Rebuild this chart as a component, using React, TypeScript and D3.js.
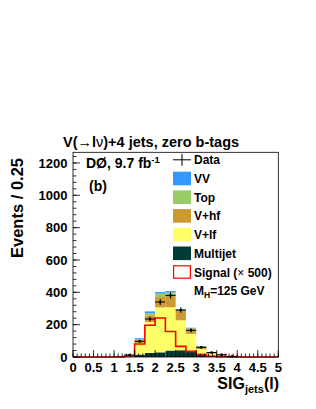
import React from 'react'
import * as d3 from 'd3'

// bin lower edges, width 0.25
const binEdges = d3.range(0, 5, 0.25)

const multijet = [0, 0, 0, 0, 0, 3, 15, 25, 29, 40, 42, 35, 20, 8, 4, 1, 0, 0, 0, 0]
const vlf = [0, 0, 0, 0, 0, 6, 72, 191, 278, 268, 185, 108, 28, 10, 4, 2, 1, 0, 0, 0]
const vhf = [0, 0, 0, 0, 0, 2, 18, 42, 64, 72, 58, 30, 14, 5, 3, 1, 0, 0, 0, 0]
const top = [0, 0, 0, 0, 0, 1, 7, 14, 21, 20, 8, 5, 4, 2, 1, 1, 0, 0, 0, 0]
const vv = [0, 0, 0, 0, 0, 1, 5, 10, 10, 8, 4, 3, 2, 1, 0, 0, 0, 0, 0, 0]
const dataCounts = [0, 0, 0, 0, 0, 12, 97, 235, 340, 381, 290, 165, 60, 28, 14, 4, 0, 0, 0, 0]
const signal = [0, 0, 0, 0, 1, 6, 80, 196, 241, 158, 66, 35, 15, 5, 2, 1, 0, 0, 0, 0]

const xTicks = [0, 0.5, 1, 1.5, 2, 2.5, 3, 3.5, 4, 4.5, 5]
const xTickLabels = ['0', '0.5', '1', '1.5', '2', '2.5', '3', '3.5', '4', '4.5', '5']
const yTicks = [0, 200, 400, 600, 800, 1000, 1200]

const series = [
  { key: 'multijet', name: 'Multijet', color: '#003b36', values: multijet },
  { key: 'vlf', name: 'V+lf', color: '#ffff66', values: vlf },
  { key: 'vhf', name: 'V+hf', color: '#cc9933', values: vhf },
  { key: 'top', name: 'Top', color: '#99cc66', values: top },
  { key: 'vv', name: 'VV', color: '#3399ff', values: vv },
]

const FONT = '"Liberation Sans", Arial, Helvetica, sans-serif'

export default function App() {
  const W = 316
  const H = 409
  const x = d3.scaleLinear().domain([0, 5]).range([73, 278.3])
  const y = d3.scaleLinear().domain([0, 1266]).range([357, 152.3])
  const bw = 0.25

  const table = binEdges.map((e, i) => {
    const row: any = { e }
    series.forEach((s) => (row[s.key] = s.values[i]))
    return row
  })
  const stacked = d3.stack().keys(series.map((s) => s.key))(table)

  // signal step outline
  const sigPts: [number, number][] = []
  binEdges.forEach((e, i) => {
    sigPts.push([e, signal[i]])
    sigPts.push([e + bw, signal[i]])
  })
  const sigLine = d3
    .line<[number, number]>()
    .x((d) => x(d[0]))
    .y((d) => y(d[1]))

  const xMinor = d3.range(0, 5.001, 0.1)
  const yMinor = d3.range(0, 1241, 40)

  const legendX = 173
  const legendRows = ['VV', 'Top', 'V+hf', 'V+lf', 'Multijet']
  const rowY = (i: number) => 178.5 + i * 18.7

  return (
    <div style={{ position: 'absolute', left: 0, top: 0 }}>
      <svg width={W} height={H} style={{ display: 'block', background: '#fff' }} fontFamily={FONT}>
        {/* stacked backgrounds */}
        {stacked.map((layer, li) => (
          <g key={layer.key} fill={series[li].color}>
            {layer.map((d, i) =>
              d[1] - d[0] > 0 ? (
                <rect
                  key={i}
                  x={x(binEdges[i])}
                  y={y(d[1])}
                  width={x(binEdges[i] + bw) - x(binEdges[i])}
                  height={y(d[0]) - y(d[1])}
                />
              ) : null
            )}
          </g>
        ))}

        {/* signal */}
        <path d={sigLine(sigPts) || ''} fill="none" stroke="#ff0000" strokeWidth={1.6} />

        {/* data */}
        <g stroke="#000" strokeWidth={1}>
          {dataCounts.map((n, i) => {
            if (n <= 0) return null
            const cx = x(binEdges[i] + bw / 2)
            const err = Math.sqrt(n)
            return (
              <g key={i}>
                <line x1={x(binEdges[i])} x2={x(binEdges[i] + bw)} y1={y(n)} y2={y(n)} />
                <line x1={cx} x2={cx} y1={y(n + err)} y2={y(Math.max(0, n - err))} />
                <circle cx={cx} cy={y(n)} r={1.3} fill="#000" stroke="none" />
              </g>
            )
          })}
        </g>

        {/* frame */}
        <rect x={x(0)} y={y(1266)} width={x(5) - x(0)} height={y(0) - y(1266)} fill="none" stroke="#000" strokeWidth={0.8} />

        {/* ticks */}
        <g stroke="#000" strokeWidth={0.8}>
          {xMinor.map((t, i) => (
            <line key={'xm' + i} x1={x(t)} x2={x(t)} y1={y(0)} y2={y(0) - 3.5} />
          ))}
          {xTicks.map((t) => (
            <line key={'xM' + t} x1={x(t)} x2={x(t)} y1={y(0)} y2={y(0) - 7} />
          ))}
          {yMinor.map((t) => (
            <line key={'ym' + t} x1={x(0)} x2={x(0) + 3.5} y1={y(t)} y2={y(t)} />
          ))}
          {yTicks.map((t) => (
            <line key={'yM' + t} x1={x(0)} x2={x(0) + 7} y1={y(t)} y2={y(t)} />
          ))}
        </g>
        <g fontSize={13} fontWeight="bold" textAnchor="middle">
          {xTicks.map((t, i) => (
            <text key={t} x={x(t)} y={371.5}>
              {xTickLabels[i]}
            </text>
          ))}
        </g>
        <g fontSize={13} fontWeight="bold" textAnchor="end">
          {yTicks.map((t) => (
            <text key={t} x={67.5} y={y(t) + 4.6}>
              {t}
            </text>
          ))}
        </g>

        {/* axis titles */}
        <text transform="translate(23,158) rotate(-90)" textAnchor="end" fontSize={16.5} fontWeight="bold">
          Events / 0.25
        </text>
        <text x={279} y={389} textAnchor="end" fontSize={16} fontWeight="bold">
          SIG<tspan fontSize={11} dy={4}>jets</tspan>
          <tspan dy={-4}>(l)</tspan>
        </text>

        {/* title */}
        <text x={63} y={147.3} fontSize={14.5} fontWeight="bold">
          V(<tspan fontWeight="normal">→</tspan>l<tspan fontWeight="normal">ν</tspan>)+4 jets, zero b-tags
        </text>

        {/* labels */}
        <text x={86} y={168} fontSize={14} fontWeight="bold">
          DØ, 9.7 fb<tspan fontSize={9.5} dy={-5}>-1</tspan>
        </text>
        <text x={89} y={190.5} fontSize={14} fontWeight="bold">
          (b)
        </text>

        {/* legend */}
        <g fontSize={12} fontWeight="bold">
          <line x1={legendX} x2={legendX + 18} y1={rowY(-1)} y2={rowY(-1)} stroke="#000" strokeWidth={1} />
          <line x1={legendX + 9} x2={legendX + 9} y1={rowY(-1) - 6} y2={rowY(-1) + 6} stroke="#000" strokeWidth={1} />
          <text x={194} y={rowY(-1) + 4.5}>Data</text>
          {legendRows.map((name, i) => {
            const s = series.find((q) => q.name === name)!
            return (
              <g key={name}>
                <rect x={legendX} y={rowY(i) - 6.8} width={18} height={13.6} fill={s.color} />
                <text x={194} y={rowY(i) + 4.5}>
                  {name}
                </text>
              </g>
            )
          })}
          <rect x={legendX + 0.6} y={rowY(5) - 6.2} width={16.8} height={12.4} fill="#fff" stroke="#ff0000" strokeWidth={1.2} />
          <text x={194} y={rowY(5) + 4.5}>
            Signal (<tspan fontWeight="normal">×</tspan> 500)
          </text>
          <text x={194} y={rowY(6) + 4.5}>
            M<tspan fontSize={8.5} dy={3}>H</tspan>
            <tspan dy={-3}>=125 GeV</tspan>
          </text>
        </g>
      </svg>
    </div>
  )
}
